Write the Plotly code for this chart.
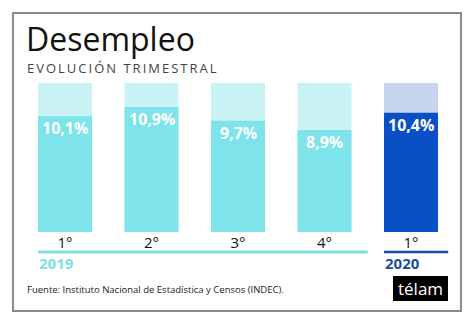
import plotly.graph_objects as go

quarters = ["1°", "2°", "3°", "4°", "1°"]
values = [10.1, 10.9, 9.7, 8.9, 10.4]
labels = ["10,1%", "10,9%", "9,7%", "8,9%", "10,4%"]
years = ["2019", "2019", "2019", "2019", "2020"]
bg_max = 13

W, H = 474, 324
def px(x): return x / W
def py(y): return 1 - y / H

CYAN = "#7ee3ea"
CYAN_BG = "#c9f3f5"
BLUE = "#0a4fc6"
BLUE_BG = "#c7d6ee"
Y19 = "#80e0e6"
Y20 = "#1b4e9e"

xs = list(range(len(values)))
fill_colors = [CYAN if y == "2019" else BLUE for y in years]
bg_colors = [CYAN_BG if y == "2019" else BLUE_BG for y in years]

fig = go.Figure()
fig.add_trace(go.Bar(x=xs, y=[bg_max] * len(values), marker=dict(color=bg_colors, line=dict(width=0)),
                     width=0.624, hoverinfo="skip", showlegend=False))
fig.add_trace(go.Bar(x=xs, y=values, marker=dict(color=fill_colors, line=dict(width=0)),
                     width=0.624, showlegend=False))

annotations = []
for x, v, lab in zip(xs, values, labels):
    annotations.append(dict(x=x, y=v, xref="x", yref="y", text=f"<b>{lab}</b>", showarrow=False,
                            yanchor="middle", yshift=-12,
                            font=dict(family="Open Sans", size=16, color="white")))

FF = "Open Sans"
annotations += [
    dict(x=px(24), y=py(39), xref="paper", yref="paper", text="Desempleo", showarrow=False,
         xanchor="left", yanchor="middle", font=dict(family=FF, size=32, color="#111111")),
    dict(x=px(25), y=py(68.5), xref="paper", yref="paper",
         text='<span style="letter-spacing:2px">EVOLUCIÓN TRIMESTRAL</span>', showarrow=False,
         xanchor="left", yanchor="middle", font=dict(family=FF, size=13, color="#444444")),
    dict(x=px(37), y=py(263), xref="paper", yref="paper", text="<b>2019</b>", showarrow=False,
         xanchor="left", yanchor="middle", font=dict(family=FF, size=15, color=Y19)),
    dict(x=px(383), y=py(263), xref="paper", yref="paper", text="<b>2020</b>", showarrow=False,
         xanchor="left", yanchor="middle", font=dict(family=FF, size=15, color=Y20)),
    dict(x=px(25), y=py(289), xref="paper", yref="paper",
         text="Fuente: Instituto Nacional de Estadística y Censos (INDEC).", showarrow=False,
         xanchor="left", yanchor="middle", font=dict(family=FF, size=9.5, color="#222222")),
    dict(x=px(420.5), y=py(288.5), xref="paper", yref="paper", text="télam", showarrow=False,
         xanchor="center", yanchor="middle", font=dict(family=FF, size=17, color="white")),
]

shapes = [
    dict(type="rect", xref="paper", yref="paper", x0=px(13), x1=px(461), y0=py(13), y1=py(311),
         line=dict(color="#8c8c8c", width=2), fillcolor="rgba(0,0,0,0)", layer="below"),
    dict(type="line", xref="x", yref="paper", x0=-0.312, x1=3.5, y0=py(252), y1=py(252),
         line=dict(color=Y19, width=3)),
    dict(type="line", xref="x", yref="paper", x0=3.688, x1=4.43, y0=py(252), y1=py(252),
         line=dict(color=Y20, width=2.5)),
    dict(type="rect", xref="paper", yref="paper", x0=px(393), x1=px(448), y0=py(276), y1=py(301),
         line=dict(width=0), fillcolor="black"),
]

fig.update_layout(
    width=W, height=H, barmode="overlay",
    margin=dict(l=0, r=0, t=0, b=0),
    paper_bgcolor="white", plot_bgcolor="white",
    xaxis=dict(domain=[px(21.75), px(454.25)], range=[-0.5, 4.5], tickvals=xs, ticktext=quarters,
               showgrid=False, zeroline=False, showline=False, ticks="",
               tickfont=dict(family=FF, size=15, color="#111111")),
    yaxis=dict(domain=[py(232), py(83)], range=[0, bg_max], visible=False, showgrid=False),
    annotations=annotations, shapes=shapes,
    font=dict(family=FF),
)

fig.write_html("out.html")
